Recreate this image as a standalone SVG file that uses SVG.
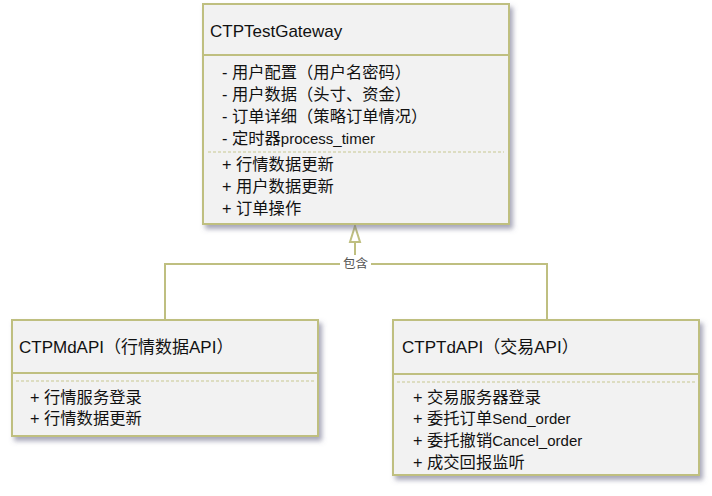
<svg xmlns="http://www.w3.org/2000/svg" width="712" height="496" viewBox="0 0 712 496">
<style>
.box{fill:#f2f2f2;stroke:#bfbf80;stroke-width:2}
.sep{stroke:#bfbf80;stroke-width:2}
.dot{stroke:#c8c890;stroke-width:1;stroke-dasharray:3 2}
.title{font-family:"Liberation Sans","Noto Sans CJK SC",sans-serif;font-size:17px;fill:#111}
.item{font-family:"Liberation Sans","Noto Sans CJK SC",sans-serif;font-size:16.3px;fill:#111}
.lat{font-size:15px}
.conn{fill:none;stroke:#bfbf80;stroke-width:2}
.lbl{font-family:"Noto Sans CJK SC",sans-serif;font-size:12.5px;fill:#555}
</style>
<defs>
<filter id="sh" x="-5%" y="-5%" width="115%" height="120%">
<feDropShadow dx="3" dy="4" stdDeviation="2.5" flood-color="#606080" flood-opacity="0.55"/>
</filter>
</defs>
<rect width="712" height="496" fill="#ffffff"/>
<g id="connectors">
<polyline class="conn" points="165,320 165,264 547,264 547,320"/>
<line class="conn" x1="355" y1="264" x2="355" y2="242"/>
<polygon points="355,226 350,242 360,242" fill="#ffffff" stroke="#bfbf80" stroke-width="2"/>
<rect x="340" y="255" width="31" height="16" fill="#ffffff"/>
<text class="lbl" x="355.5" y="268" text-anchor="middle">包含</text>
</g>
<g id="CTPTestGateway">
<rect class="box" x="203" y="4" width="306" height="220" filter="url(#sh)"/>
<line class="sep" x1="203" y1="55" x2="509" y2="55"/>
<line class="dot" x1="208" y1="152" x2="504" y2="152"/>
<text class="title" x="210" y="37">CTPTestGateway</text>
<text class="item" x="222" y="78">- 用户配置（用户名密码）</text>
<text class="item" x="222" y="100">- 用户数据（头寸、资金）</text>
<text class="item" x="222" y="122">- 订单详细（策略订单情况）</text>
<text class="item" x="222" y="144">- 定时器<tspan class="lat">process_timer</tspan></text>
<text class="item" x="222" y="170">+ 行情数据更新</text>
<text class="item" x="222" y="192">+ 用户数据更新</text>
<text class="item" x="222" y="214">+ 订单操作</text>
</g>
<g id="CTPMdAPI">
<rect class="box" x="12" y="320" width="306" height="116" filter="url(#sh)"/>
<line class="sep" x1="12" y1="373" x2="318" y2="373"/>
<line class="dot" x1="16" y1="381" x2="314" y2="381"/>
<text class="title" x="19" y="353">CTPMdAPI（行情数据API）</text>
<text class="item" x="30" y="403">+ 行情服务登录</text>
<text class="item" x="30" y="424">+ 行情数据更新</text>
</g>
<g id="CTPTdAPI">
<rect class="box" x="393" y="320" width="306" height="155" filter="url(#sh)"/>
<line class="sep" x1="393" y1="374" x2="699" y2="374"/>
<line class="dot" x1="397" y1="382" x2="695" y2="382"/>
<text class="title" x="402" y="353">CTPTdAPI（交易API）</text>
<text class="item" x="413" y="403">+ 交易服务器登录</text>
<text class="item" x="413" y="424">+ 委托订单<tspan class="lat">Send_order</tspan></text>
<text class="item" x="413" y="446">+ 委托撤销<tspan class="lat">Cancel_order</tspan></text>
<text class="item" x="413" y="468">+ 成交回报监听</text>
</g>
</svg>
